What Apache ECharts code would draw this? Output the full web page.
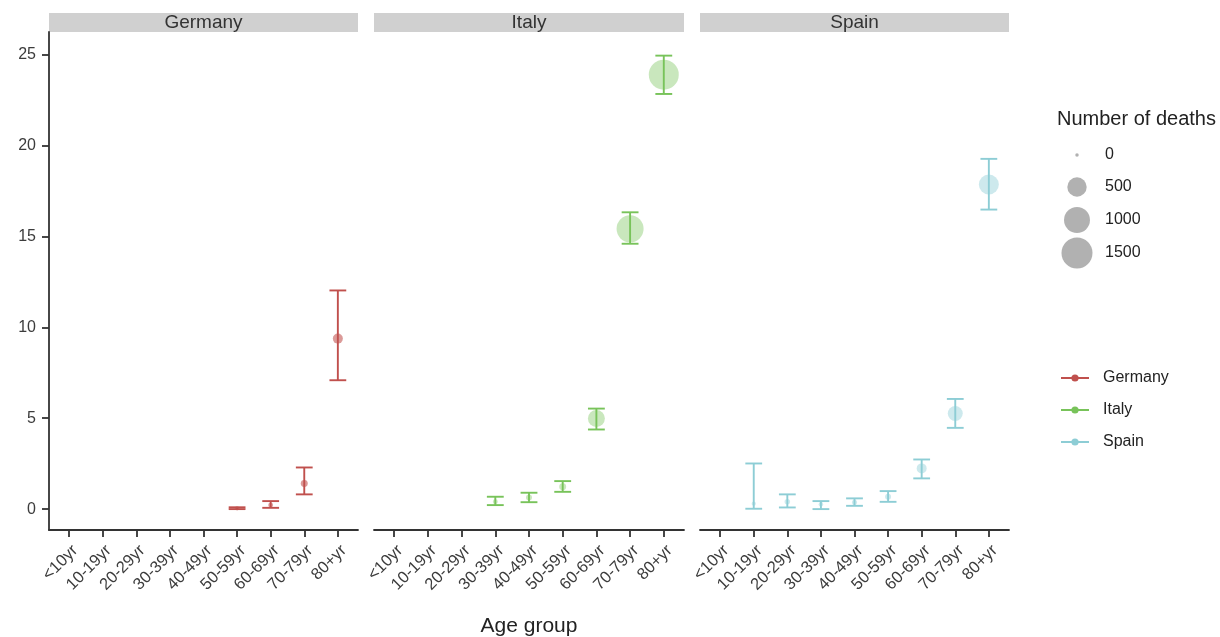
<!DOCTYPE html>
<html>
<head>
<meta charset="utf-8">
<script src="https://cdn.jsdelivr.net/npm/echarts@6/dist/echarts.min.js"></script>
<style>html,body{margin:0;padding:0;background:#fff}#c{width:1220px;height:637px}</style>
</head>
<body>
<div id="c"></div>
<script>
const categories = ['<10yr','10-19yr','20-29yr','30-39yr','40-49yr','50-59yr','60-69yr','70-79yr','80+yr'];
const countries = ['Germany','Italy','Spain'];
const yTicks = [0,5,10,15,20,25];
const sizeLegendValues = [0,500,1000,1500];

const germanyCfr   = [null,null,null,null,null,0.04,0.22,1.41,9.38];
const germanyLow   = [null,null,null,null,null,0.00,0.07,0.81,7.09];
const germanyHigh  = [null,null,null,null,null,0.10,0.44,2.29,12.03];
const germanyDeaths= [null,null,null,null,null,1,4,24,84];

const italyCfr     = [null,null,null,0.40,0.64,1.23,4.98,15.42,23.90];
const italyLow     = [null,null,null,0.22,0.38,0.95,4.38,14.60,22.84];
const italyHigh    = [null,null,null,0.68,0.90,1.54,5.53,16.33,24.95];
const italyDeaths  = [null,null,null,4,12,24,360,1100,1390];

const spainCfr     = [null,0.30,0.40,0.26,0.37,0.68,2.24,5.26,17.86];
const spainLow     = [null,0.02,0.09,0.00,0.18,0.40,1.69,4.47,16.48];
const spainHigh    = [null,2.51,0.81,0.44,0.59,0.99,2.73,6.06,19.27];
const spainDeaths  = [null,1,8,2,5,12,84,260,540];

const colors = {Germany:'#C0504D', Italy:'#78C35A', Spain:'#8DCDD5'};
const fills = {Germany:'rgba(192,80,77,0.72)', Italy:'rgba(120,195,90,0.5)', Spain:'rgba(141,205,213,0.55)'};

const dataBy = {
  Germany:{cfr:germanyCfr,low:germanyLow,high:germanyHigh,deaths:germanyDeaths},
  Italy:{cfr:italyCfr,low:italyLow,high:italyHigh,deaths:italyDeaths},
  Spain:{cfr:spainCfr,low:spainLow,high:spainHigh,deaths:spainDeaths}
};

function diam(n){ return 3.5 + 0.71*Math.sqrt(n); }

const FONT = 'Liberation Sans, Arial, sans-serif';
const panels = [{left:49,width:309},{left:374,width:310},{left:700,width:309}];
const TOP = 32, BOTTOM_Y = 530;
const YMIN = -1.15, YMAX = 26.25;

const grids = [], xAxes = [], yAxes = [], series = [], graphics = [];
const idx = categories.map((c,i)=>i);

panels.forEach((p,gi)=>{
  grids.push({left:p.left, top:TOP, width:p.width, height:BOTTOM_Y-TOP, containLabel:false, outerBoundsMode:'none'});
  xAxes.push({
    type:'value', gridIndex:gi, min:-0.6, max:categories.length-1+0.6,
    splitLine:{show:false},
    axisLine:{show:true, onZero:false, lineStyle:{color:'#333', width:1.8}},
    axisTick:{show:true, length:7, lineStyle:{color:'#333', width:1.8}, customValues:idx},
    axisLabel:{show:true, rotate:45, customValues:idx, formatter:v=>categories[Math.round(v)]||'',
      color:'#3c3c3c', fontSize:16.5, fontFamily:FONT, margin:12, verticalAlign:'top'},
    name: gi===1 ? 'Age group' : '', nameLocation:'middle', nameGap:86,
    nameTextStyle:{fontSize:21, color:'#222', fontFamily:FONT}
  });
  yAxes.push({
    type:'value', gridIndex:gi, min:YMIN, max:YMAX,
    splitLine:{show:false},
    axisLine:{show:gi===0, onZero:false, lineStyle:{color:'#333', width:1.8}},
    axisTick:{show:gi===0, length:7, lineStyle:{color:'#333', width:1.8}, customValues:yTicks},
    axisLabel:{show:gi===0, customValues:yTicks, color:'#3c3c3c', fontSize:16, fontFamily:FONT, margin:13}
  });
  graphics.push({type:'rect', shape:{x:p.left, y:13, width:p.width, height:19}, style:{fill:'#D0D0D0'}, silent:true});
  graphics.push({type:'text', x:p.left+p.width/2, y:23, style:{text:countries[gi], fill:'#333', fontSize:19, fontFamily:FONT, align:'center', verticalAlign:'middle'}, silent:true});
});

countries.forEach((c,gi)=>{
  const d = dataBy[c];
  series.push({type:'line', name:c, xAxisIndex:gi, yAxisIndex:gi, data:[], symbol:'circle', symbolSize:5,
    itemStyle:{color:colors[c]}, lineStyle:{color:colors[c], width:2}});
  const pts = [], bars = [];
  categories.forEach((cat,i)=>{
    if (d.cfr[i] != null) {
      pts.push([i, d.cfr[i], d.deaths[i]]);
      bars.push([i, d.low[i], d.high[i]]);
    }
  });
  series.push({type:'scatter', name:c+' points', xAxisIndex:gi, yAxisIndex:gi, data:pts,
    symbolSize:v=>diam(v[2]), itemStyle:{color:fills[c]}, z:2, silent:true});
  series.push({type:'custom', name:c+' CI', xAxisIndex:gi, yAxisIndex:gi, data:bars, z:3, silent:true,
    encode:{x:0, y:[1,2]},
    renderItem:(params, api)=>{
      const x = api.value(0);
      const lo = api.coord([x, api.value(1)]);
      const hi = api.coord([x, api.value(2)]);
      const hw = api.size([1,0])[0]*0.25;
      const st = {stroke:colors[c], lineWidth:1.9};
      return {type:'group', children:[
        {type:'line', shape:{x1:lo[0], y1:lo[1], x2:hi[0], y2:hi[1]}, style:st},
        {type:'line', shape:{x1:lo[0]-hw, y1:lo[1], x2:lo[0]+hw, y2:lo[1]}, style:st},
        {type:'line', shape:{x1:hi[0]-hw, y1:hi[1], x2:hi[0]+hw, y2:hi[1]}, style:st}
      ]};
    }});
});

const legends = [];
const sizeLegendCY = [155,187,220,253];
const LH = 20;
sizeLegendValues.forEach((v,k)=>{
  const nm = String(v);
  const dd = diam(v);
  series.push({type:'scatter', name:nm, data:[], xAxisIndex:0, yAxisIndex:0, itemStyle:{color:'rgba(125,125,125,0.75)'}});
  legends.push({data:[{name:nm, icon:'circle'}], padding:0, left:1077-dd/2, top:sizeLegendCY[k]-Math.max(dd,LH)/2,
    itemWidth:dd, itemHeight:dd, selectedMode:false,
    textStyle:{color:'#222', fontSize:16, lineHeight:LH, fontFamily:FONT, padding:[0,0,0,Math.max(0,23-dd/2)]}});
});
legends.push({data:countries, orient:'vertical', padding:0, left:1060, top:378-LH/2, itemWidth:28, itemHeight:9, itemGap:12,
  selectedMode:false, textStyle:{color:'#222', fontSize:16, lineHeight:LH, fontFamily:FONT, padding:[0,0,0,9]}});

graphics.push({type:'text', x:1057, y:119, style:{text:'Number of deaths', fill:'#222', fontSize:20, fontFamily:FONT, verticalAlign:'middle'}, silent:true});

const chart = echarts.init(document.getElementById('c'), null, {renderer:'canvas'});
chart.setOption({
  animation:false,
  backgroundColor:'#ffffff',
  grid:grids, xAxis:xAxes, yAxis:yAxes, series:series, legend:legends, graphic:graphics
});
</script>
</body>
</html>
